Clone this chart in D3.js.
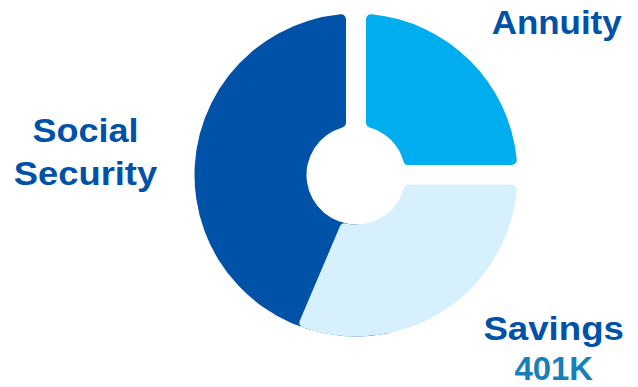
<!DOCTYPE html>
<html>
<head>
<meta charset="utf-8">
<script src="https://cdn.jsdelivr.net/npm/d3@7"></script>
<style>
  html, body { margin: 0; padding: 0; background: #ffffff; }
  svg { display: block; }
  text { font-family: "Liberation Sans", Arial, Helvetica, sans-serif; font-weight: bold; }
</style>
</head>
<body>
<svg id="chart" width="638" height="387"></svg>
<script>
// ---- data ----
const categories = ["Annuity", "Savings", "Social Security"];
const values = [25, 31.4, 43.6];
const sliceColors = ["#00aeef", "#d6f1fd", "#0051a8"];
const labelLines = [["Annuity"], ["Savings", "401K"], ["Social", "Security"]];
const labelColors = [["#0051a8"], ["#0051a8", "#1a7fb9"], ["#0051a8", "#0051a8"]];

// ---- layout ----
const W = 638, H = 387;
const cx = 356, cy = 175;
const outerR = 161.5, innerR = 49.5, cornerR = 5;
const PR = 100; // pad radius
const padFor = px => 2 * Math.asin(px / PR);

const svg = d3.select("#chart");
const g = svg.append("g").attr("transform", `translate(${cx},${cy})`);

const pie = d3.pie().sort(null).value(d => d);
const arcs = pie(values);

const arc = d3.arc()
  .innerRadius(innerR)
  .outerRadius(outerR)
  .cornerRadius(cornerR)
  .padRadius(PR);

const deg = Math.PI / 180;

// Social Security (drawn first, its start edge tucked under Savings)
const ss = arcs[2];
g.append("path")
  .attr("d", arc({startAngle: ss.startAngle - 40 * deg, endAngle: ss.endAngle, padAngle: padFor(10)}))
  .attr("fill", sliceColors[2]);

// Savings (two overlapping pieces so that its two edges get different gaps)
const sv = arcs[1];
const mid = (sv.startAngle + sv.endAngle) / 2;
g.append("path")
  .attr("d", arc({startAngle: sv.startAngle, endAngle: mid + 20 * deg, padAngle: padFor(9.5)}))
  .attr("fill", sliceColors[1]);
g.append("path")
  .attr("d", arc({startAngle: mid - 20 * deg, endAngle: sv.endAngle, padAngle: padFor(5.3)}))
  .attr("fill", sliceColors[1]);

// Annuity
const an = arcs[0];
g.append("path")
  .attr("d", arc({startAngle: an.startAngle, endAngle: an.endAngle, padAngle: padFor(10)}))
  .attr("fill", sliceColors[0]);

// ---- labels ----
const labelPos = [
  {x: 556.7, y: [34], w: [130]},
  {x: 553.7, y: [339.5], w: [140.5, 78.5]},
  {x: 85.5, y: [142, 184.5], w: [106, 143.3]}
];
labelPos[1].y.push(379.5);
labelLines.forEach((lines, i) => {
  lines.forEach((t, j) => {
    svg.append("text")
      .attr("x", labelPos[i].x)
      .attr("y", labelPos[i].y[j])
      .attr("text-anchor", "middle")
      .attr("font-size", 33)
      .attr("textLength", labelPos[i].w[j])
      .attr("lengthAdjust", "spacingAndGlyphs")
      .attr("fill", labelColors[i][j])
      .text(t);
  });
});
</script>
</body>
</html>
